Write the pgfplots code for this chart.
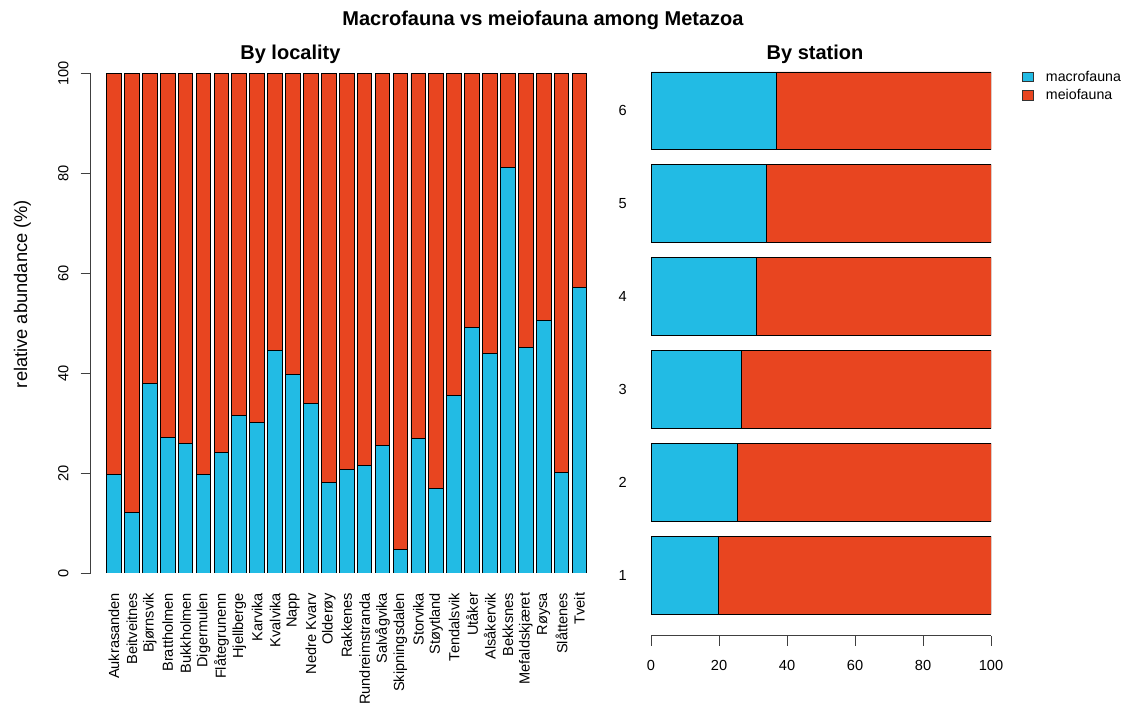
\documentclass[border=0pt]{standalone}
\usepackage{fontspec}
\setmainfont{Liberation Sans}
\usepackage{pgfplots}
\pgfplotsset{compat=1.18}
\definecolor{macro}{RGB}{34,187,228}
\definecolor{meio}{RGB}{232,69,32}
\newcommand{\tickfont}{\fontsize{14.6}{16}\selectfont}
\begin{document}
\begin{tikzpicture}
\useasboundingbox (0pt,0pt) rectangle (1127pt,704pt);
% ---------------- left panel ----------------
\begin{axis}[
  at={(90.7pt,131pt)}, anchor=south west, scale only axis,
  width=512pt, height=499.7pt,
  ybar stacked, bar width=0.82,
  xmin=-1.30, xmax=27.3, ymin=0, ymax=100,
  axis y line*=left, axis x line*=bottom,
  x axis line style={draw=none},
  y axis line style={draw=black!75, line width=0.9pt},
  xtick={0,...,26},
  xticklabels={Aukrasanden,Beitveitnes,Bjørnsvik,Brattholmen,Bukkholmen,Digermulen,Flåtegrunenn,Hjellberge,Karvika,Kvalvika,Napp,Nedre Kvarv,Olderøy,Rakkenes,Rundreimstranda,Salvågvika,Skipningsdalen,Storvika,Støytland,Tendalsvik,Utåker,Alsåkervik,Bekksnes,Mefaldskjæret,Røysa,Slåttenes,Tveit},
  xtick style={draw=none},
  xticklabel style={rotate=90, anchor=east, inner sep=0pt, font=\tickfont},
  xticklabel shift=9.7pt,
  ytick={0,20,40,60,80,100},
  ytick style={draw=black!75, line width=0.9pt},
  tick align=outside, major tick length=10pt,
  yticklabel style={rotate=90, anchor=south, inner sep=0pt, font=\tickfont},
  yticklabel shift=12pt,
  /pgf/number format/assume math mode=true,
  every axis plot/.append style={draw=black, line width=0.9pt},
]
\addplot[fill=macro] coordinates {(0,19.7) (1,12.1) (2,37.9) (3,27.1) (4,25.9) (5,19.7) (6,24.2) (7,31.5) (8,30.2) (9,44.6) (10,39.8) (11,33.9) (12,18.1) (13,20.8) (14,21.6) (15,25.5) (16,4.7) (17,27.0) (18,16.9) (19,35.6) (20,49.2) (21,43.9) (22,81.1) (23,45.1) (24,50.5) (25,20.2) (26,57.1)};
\addplot[fill=meio] coordinates {(0,80.3) (1,87.9) (2,62.1) (3,72.9) (4,74.1) (5,80.3) (6,75.8) (7,68.5) (8,69.8) (9,55.4) (10,60.2) (11,66.1) (12,81.9) (13,79.2) (14,78.4) (15,74.5) (16,95.3) (17,73.0) (18,83.1) (19,64.4) (20,50.8) (21,56.1) (22,18.9) (23,54.9) (24,49.5) (25,79.8) (26,42.9)};
\end{axis}
% ---------------- right panel ----------------
\begin{axis}[
  at={(651pt,68.3pt)}, anchor=south west, scale only axis,
  width=340pt, height=585.4pt,
  xbar stacked, bar width=0.833,
  xmin=0, xmax=100, ymin=0.35, ymax=6.65,
  axis x line*=bottom, axis y line*=left,
  y axis line style={draw=none},
  x axis line style={draw=black!75, line width=0.9pt},
  ytick={1,2,3,4,5,6},
  ytick style={draw=none},
  yticklabel style={font=\tickfont, inner sep=0pt},
  yticklabel shift=14pt,
  xtick={0,20,40,60,80,100},
  xtick style={draw=black!75, line width=0.9pt},
  tick align=outside, major tick length=10pt,
  xticklabel style={font=\tickfont, inner sep=0pt},
  xticklabel shift=14pt,
  /pgf/number format/assume math mode=true,
  every axis plot/.append style={draw=black, line width=0.9pt},
  legend style={at={(1.082,0.972)}, anchor=north west, draw=none, fill=none,
    font=\fontsize{14.2}{16}\selectfont, row sep=3pt,
    cells={anchor=west}},
]
\addplot[fill=macro, legend image code/.code={\draw[fill=macro,draw=black!80,line width=0.8pt] (0pt,-4.8pt) rectangle (10.7pt,4.8pt); \path (0pt,0pt) (21pt,0pt);}]
  coordinates {(19.7,1) (25.4,2) (26.6,3) (30.9,4) (34.0,5) (36.9,6)};
\addplot[fill=meio, legend image code/.code={\draw[fill=meio,draw=black!80,line width=0.8pt] (0pt,-4.8pt) rectangle (10.7pt,4.8pt); \path (0pt,0pt) (21pt,0pt);}]
  coordinates {(80.3,1) (74.6,2) (73.4,3) (69.1,4) (66.0,5) (63.1,6)};
\legend{macrofauna,meiofauna}
\end{axis}
% ---------------- titles ----------------
\node[anchor=base, font=\bfseries\fontsize{20}{24}\selectfont] at (543pt,678pt) {Macrofauna vs meiofauna among Metazoa};
\node[anchor=base, font=\bfseries\fontsize{20}{24}\selectfont] at (290.4pt,644.3pt) {By locality};
\node[anchor=base, font=\bfseries\fontsize{20}{24}\selectfont] at (815pt,644.3pt) {By station};
\node[rotate=90, anchor=base, font=\fontsize{18.3}{20}\selectfont] at (27pt,410pt) {relative abundance (\%)};
\end{tikzpicture}
\end{document}
